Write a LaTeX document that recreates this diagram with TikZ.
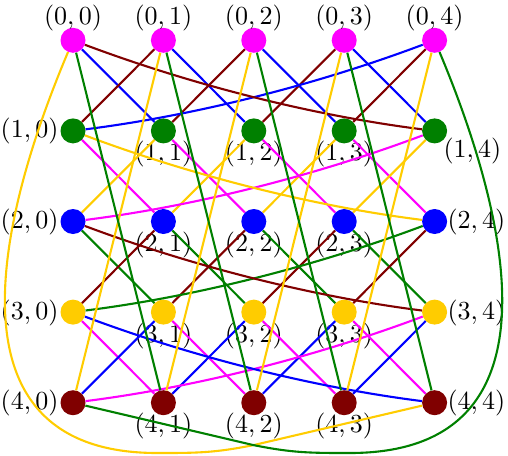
\documentclass[tikz,border=0pt]{standalone}
\definecolor{cmag}{RGB}{255,0,255}
\definecolor{cgreen}{RGB}{0,128,0}
\definecolor{cblue}{RGB}{0,0,255}
\definecolor{cyel}{RGB}{255,204,0}
\definecolor{cdred}{RGB}{128,0,0}
\begin{document}
\begin{tikzpicture}[x=1pt,y=-1pt,
  vert/.style={circle,minimum size=25pt,inner sep=0pt,draw=none},
  edge/.style={line width=2.1pt},
  lab/.style={inner sep=0pt,scale=2.6,transform shape}]
\useasboundingbox (0,0) rectangle (508,455);
% vertices
\foreach \i/\c in {0/cmag,1/cgreen,2/cblue,3/cyel,4/cdred}
  \foreach \j in {0,...,4}
    \node[vert,fill=\c] (n\i\j) at ({73+90.4*\j},{40.3+90.6*\i}) {};
% labels
\foreach \j in {0,...,4}
  \node[lab,anchor=base] (l0\j) at ({73+90.4*\j},24) {$(0,\j)$};
\foreach \i in {1,...,4}
  \foreach \j in {1,2,3}
    \node[lab,anchor=base] (l\i\j) at ({73+90.4*\j},{40.3+90.6*\i+30}) {$(\i,\j)$};
\foreach \i in {1,...,4}
  \node[lab,anchor=base east] (l\i0) at (59,{40.3+90.6*\i+7}) {$(\i,0)$};
\foreach \i in {2,3,4}
  \node[lab,anchor=base west] (l\i4) at (447,{40.3+90.6*\i+7}) {$(\i,4)$};
\node[lab,anchor=base west] (l14) at (443,157.5) {$(1,4)$};
% edges between consecutive rows
\foreach \i/\ni/\cD/\cL in {0/1/cblue/cdred,1/2/cmag/cyel,2/3/cgreen/cdred,3/4/cmag/cblue}{
  \foreach \j/\jp in {0/1,1/2,2/3,3/4}
    \draw[edge,\cD] (n\i\j) -- (n\ni\jp);
  \foreach \j/\jm in {1/0,2/1,3/2,4/3}
    \draw[edge,\cL] (n\i\j) -- (n\ni\jm);
  \draw[edge,\cD] (n\i4) .. controls +(-120.5,45.2) and +(120.5,-15.2) .. (n\ni0);
  \draw[edge,\cL] (n\i0) .. controls +(120.5,45.2) and +(-120.5,-15.2) .. (n\ni4);
}
% edges between last and first row
\foreach \j/\jp in {0/1,1/2,2/3,3/4}
  \draw[edge,cyel] (n4\j) -- (n0\jp);
\foreach \j/\jm in {1/0,2/1,3/2,4/3}
  \draw[edge,cgreen] (n4\j) -- (n0\jm);
\draw[edge,cyel] (n00) .. controls (-3,220) and (-58,453) .. (157,453)
  .. controls (197,453) and (214,453) .. (254,445) -- (n44);
\draw[edge,cgreen] (n04) .. controls (510,220) and (565,453) .. (350,453)
  .. controls (310,453) and (293,453) .. (253,445) -- (n40);
\end{tikzpicture}
\end{document}
